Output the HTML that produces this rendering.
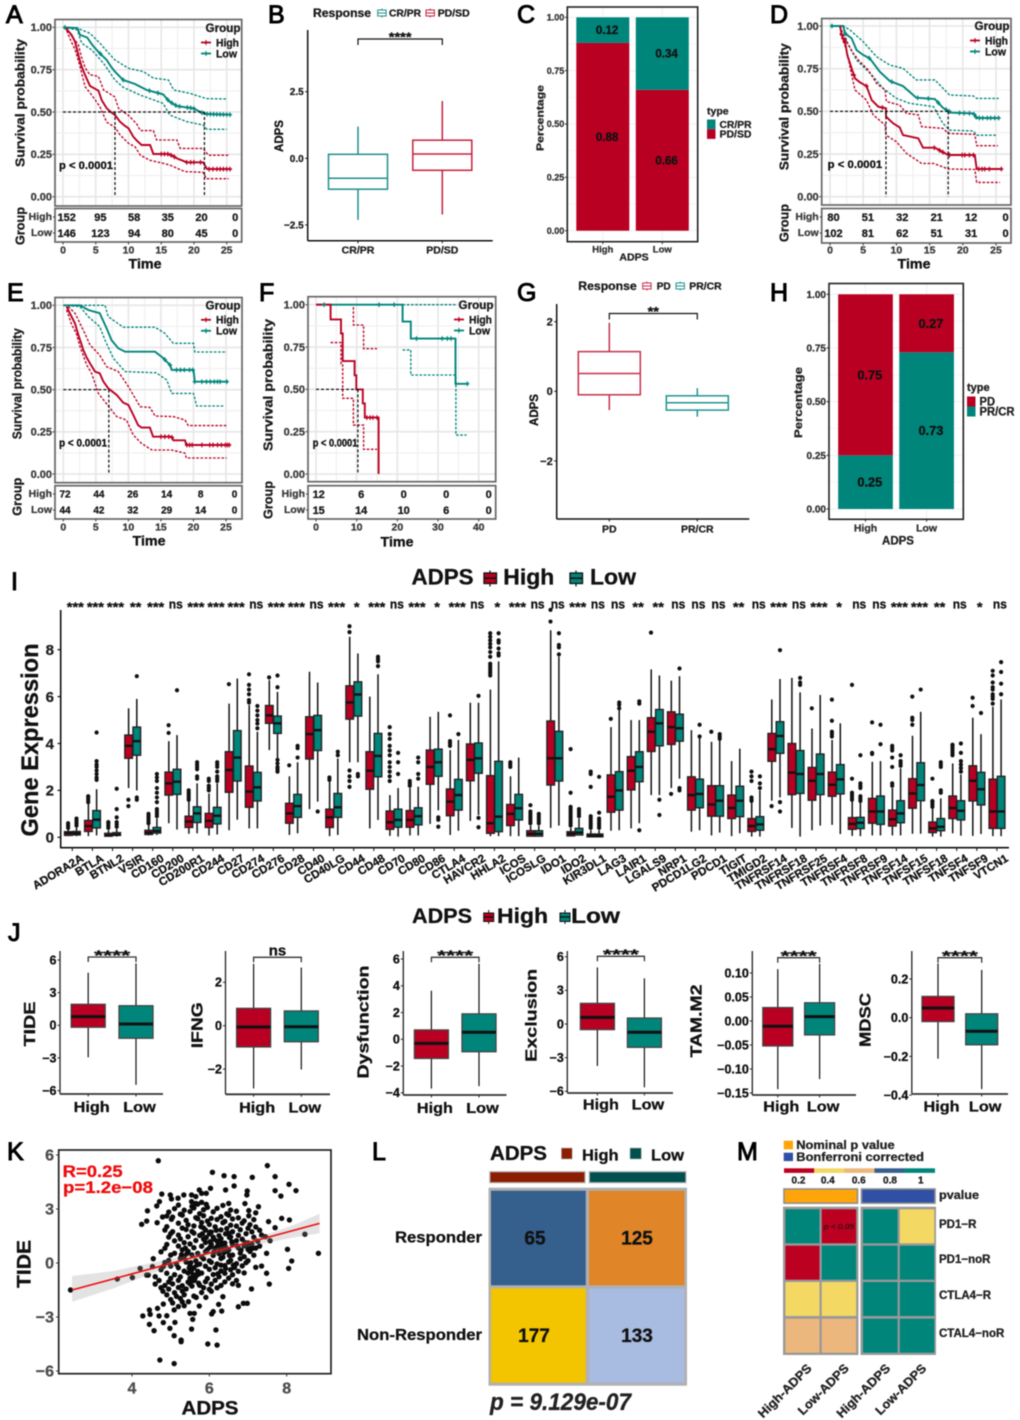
<!DOCTYPE html>
<html lang="en"><head><meta charset="utf-8"><title>ADPS multi-panel figure</title>
<style>
html,body{margin:0;padding:0;background:#fff}
svg{display:block;filter:blur(.4px)}
text{font-family:"Liberation Sans",sans-serif}
.letter{font-size:25px;font-weight:400;stroke:#000;stroke-width:1px;fill:#000}
</style></head>
<body>
<svg id="figure" xmlns="http://www.w3.org/2000/svg" width="1020" height="1420" viewBox="0 0 1020 1420">
<rect width="1020" height="1420" fill="#fff"/>
<text class="letter" x="6" y="23">A</text>
<text class="letter" x="268" y="23">B</text>
<text class="letter" x="517" y="23">C</text>
<text class="letter" x="770" y="23">D</text>
<text class="letter" x="7" y="301">E</text>
<text class="letter" x="259" y="301">F</text>
<text class="letter" x="517" y="301">G</text>
<text class="letter" x="770" y="301">H</text>
<text class="letter" x="11" y="590">I</text>
<text class="letter" x="8" y="941">J</text>
<text class="letter" x="7" y="1160">K</text>
<text class="letter" x="372" y="1160">L</text>
<text class="letter" x="737" y="1160">M</text>
</svg>
<script>
/* ---------- Panel A data (time, survival) ---------- */
const aHighCurve=[[0.5,1],[.56,.988],[1.32,.955],[1.83,.915],[2.1,.875],[2.34,.837],[2.6,.8],[2.85,.768],[3.36,.719],[3.7,.69],[4.12,.654],[5.4,.626],[5.65,.6],[5.9,.571],[6.3,.545],[6.67,.522],[7.3,.5],[7.94,.482],[8.7,.443],[9.4,.42],[10,.404],[10.74,.354],[11.3,.33],[12,.305],[13.3,.305],[13.8,.252],[16.1,.252],[16.8,.24],[17.4,.226],[18.9,.203],[21.4,.203],[22,.163],[25.5,.163]];
const aHighUpper=[[.8,.98],[1.5,.94],[2.3,.9],[2.85,.82],[3.4,.76],[4.1,.72],[5.4,.71],[6.2,.63],[7.9,.59],[8.5,.52],[10,.48],[11.25,.43],[11.8,.39],[13.8,.39],[14.3,.335],[17.4,.335],[17.9,.285],[21.4,.285],[22.2,.245],[25.3,.245]];
const aHighLower=[[.56,.98],[1.2,.92],[1.83,.87],[2.6,.77],[3.36,.65],[4.4,.6],[5.65,.53],[6.67,.44],[7.94,.41],[8.7,.365],[10,.315],[11,.295],[11.8,.245],[13.3,.215],[15.3,.197],[16.3,.187],[18.6,.148],[21.4,.144],[21.9,.106],[25.3,.106]];
const aLowCurve=[[0,1],[2.2,.995],[2.6,.955],[3.7,.94],[4.3,.905],[4.9,.876],[5.8,.84],[6.67,.807],[7.3,.77],[7.94,.738],[9.2,.689],[11,.665],[12,.645],[12.8,.63],[15.3,.604],[15.8,.58],[16.3,.561],[17.4,.535],[19.9,.522],[21.2,.496],[22,.488],[25.5,.484]];
const aLowUpper=[[0,1],[2.2,.995],[2.85,.984],[4.1,.965],[5.65,.906],[6.8,.855],[7.94,.807],[10,.758],[12.3,.738],[13.8,.7],[16.1,.689],[16.9,.63],[19.4,.61],[21.9,.579],[25,.577]];
const aLowLower=[[0,1],[2.2,.984],[2.85,.906],[4.4,.866],[6.2,.787],[7.94,.689],[9.2,.646],[11.8,.6],[15.3,.551],[16.3,.482],[18.9,.443],[21.4,.423],[22,.398],[25,.398]];
const aHighCensor=[15,15.5,16,16.5,17,18.9,19.5,20,21,22.3,22.9,23.5,24,24.5,25,25.5];
const aLowCensor=[.3,5.7,9.2,13.2,14.5,16,16.6,17.2,17.8,19,19.5,20,21.2,22,22.5,23,23.5,24,24.5,25,25.5];
const aMedianTimes=[7.94,21.6];
const aRiskHigh=[152,95,58,35,20,0];
const aRiskLow=[146,123,94,80,45,0];
/* ---------- Panel D data ---------- */
const dHighCurve=[[1.5,1],[1.76,.947],[2.26,.908],[2.6,.83],[3.26,.752],[3.77,.693],[4.5,.67],[5.5,.648],[6.28,.566],[7.28,.527],[8.43,.518],[8.43,.469],[9.5,.43],[10.5,.406],[11,.361],[13.3,.342],[14,.287],[15.8,.287],[16.8,.265],[17.8,.244],[21.8,.244],[22.1,.162],[25.9,.162]];
const dHighUpper=[[1.5,1],[2,.947],[3.5,.84],[4.5,.79],[5.77,.742],[7,.664],[8.3,.625],[8.5,.557],[10.5,.537],[11.5,.488],[13.3,.479],[13.8,.41],[17,.4],[17.8,.371],[21.8,.365],[22.1,.299],[25.3,.299]];
const dHighLower=[[1.5,.957],[2.5,.86],[3.1,.742],[3.77,.625],[5.5,.566],[6.5,.479],[8.3,.42],[8.43,.361],[10,.322],[11.5,.254],[13.8,.195],[15.6,.195],[17.8,.162],[21.8,.16],[22.1,.084],[25.6,.084]];
const dLowCurve=[[0,1],[2,1],[2.26,.957],[3.26,.928],[4,.859],[5,.83],[6,.81],[7.5,.732],[9,.678],[11,.648],[13,.58],[15.8,.572],[17,.521],[18.3,.492],[21.6,.488],[22.1,.461],[25.4,.461]];
const dLowUpper=[[0,1],[2,1],[3,.977],[5,.908],[7,.82],[9,.771],[11,.752],[13,.684],[15.8,.684],[18,.596],[21.6,.59],[22.1,.576],[25.4,.576]];
const dLowLower=[[0,1],[2,1],[2.5,.908],[4,.8],[6.3,.713],[8,.635],[10,.576],[12,.547],[15.6,.527],[17,.43],[18,.39],[21.6,.385],[22.1,.36],[25.1,.36]];
const dHighCensor=[2.2,3.6,5.5,7.9,15.7,16.5,17,18,19.9,20.3,21,21.6,22.4,22.9,23.3,24,25.8];
const dLowCensor=[0.3,2.3,5.9,9.3,13.2,14.8,16.3,17.5,18,19.5,20.2,21,21.7,22,22.5,23,23.7,24.2,24.8,25.4];
const dMedianTimes=[8.43,17.8];
const dRiskHigh=[80,51,32,21,12,0];
const dRiskLow=[102,81,62,51,31,0];
/* ---------- Panel E data ---------- */
const eHighCurve=[[.5,.992],[1,.953],[1.8,.893],[2.3,.824],[2.7,.78],[3.07,.735],[3.6,.69],[4.1,.656],[4.87,.607],[5.6,.597],[6.15,.549],[6.9,.508],[8.2,.468],[9.2,.423],[10,.409],[10.76,.35],[11.5,.29],[12,.275],[13.3,.275],[13.8,.221],[16.65,.221],[16.9,.2],[18.7,.2],[18.9,.172],[25.6,.172]];
const eHighUpper=[[.75,.992],[1.8,.953],[2.56,.893],[3.3,.834],[4.1,.765],[5.6,.705],[6.65,.636],[8.45,.607],[10,.518],[11.8,.399],[13.3,.395],[14.1,.344],[16.9,.34],[18.7,.32],[19.2,.287],[25.1,.287]];
const eHighLower=[[.5,.972],[1.3,.883],[2,.834],[2.56,.755],[3.6,.646],[4.35,.597],[5.4,.478],[7.2,.389],[8.2,.34],[9.7,.32],[10.76,.231],[12,.182],[13.6,.142],[16.65,.142],[18.7,.123],[18.9,.095],[25.1,.095]];
const eLowCurve=[[0,1],[2.56,1],[3.84,.972],[5.6,.953],[6.65,.864],[7.4,.794],[8.45,.745],[9.5,.725],[14.1,.725],[15.4,.686],[16.4,.646],[16.65,.617],[20,.617],[20.2,.547],[25.4,.547]];
const eLowUpper=[[0,1],[6.4,1],[6.9,.933],[9.2,.87],[14.1,.87],[15.6,.834],[16.9,.775],[20,.775],[20.2,.723],[25.1,.723]];
const eLowLower=[[0,1],[2.56,.992],[3.84,.933],[5.6,.874],[6.4,.794],[7.7,.686],[9.5,.607],[14.3,.6],[15.9,.557],[16.65,.478],[20,.478],[20.5,.403],[24.8,.403]];
const eHighCensor=[15,15.6,16.2,16.7,19,19.4,19.8,21.3,22.5,23,23.7,24.3,24.9,25.2,25.5];
const eLowCensor=[15.6,16.4,17.4,18,18.6,19.4,19.9,20.2,21.3,22,22.6,23.2,23.7,24.1,25.1];
const eMedianTimes=[7];
const eRiskHigh=[72,44,26,14,8,0];
const eRiskLow=[44,42,32,29,14,0];
/* ---------- Panel F data ---------- */
const fHighCurve=[[0,1],[3.6,.913],[6.15,.83],[6.56,.667],[9.5,.583],[9.9,.5],[11.5,.417],[12,.333],[15.4,0]];
const fHighUpper=[[3.6,1],[9.2,.88],[11.7,.74],[15,.74]];
const fHighLower=[[3.6,.776],[6.15,.644],[6.56,.447],[9.2,.289],[11.7,.146],[15,.146]];
const fLowCurve=[[0,1],[21.3,.9],[23.3,.8],[34.3,.533],[37.2,.533]];
const fLowUpper=[[21.3,1],[34.5,1]];
const fLowLower=[[21.3,.733],[23.3,.585],[34.4,.23],[37,.23]];
const fHighCensor=[12.5,13.3,14,15];
const fLowCensor=[2,15.5,19.2,24.7,31,32.3,33.2,37.2];
const fMedianTimes=[10.3];
const fRiskHigh=[12,6,0,0,0];
const fRiskLow=[15,14,10,6,0];
/* ---------- Panels B, G (open box plots): whisker low, q1, median, q3, whisker high ---------- */
const bCategories=['CR/PR','PD/SD'];
const bBoxCRPR=[-2.31,-1.16,-.75,.15,1.19];
const bBoxPDSD=[-2.11,-.45,.16,.68,2.15];
const bTicks=[2.5,0,-2.5];
const gCategories=['PD','PR/CR'];
const gBoxPD=[-.54,-.1,.51,1.14,1.97];
const gBoxPRCR=[-.73,-.54,-.33,-.13,.09];
const gTicks=[2,0,-2];
/* ---------- Panels C, H (stacked bars) ---------- */
const stackTicks=[0,.25,.5,.75,1];
const cCategories=['High','Low'];
const cPDSD=[.88,.66];
const cCRPR=[.12,.34];
const hCategories=['High','Low'];
const hPRCR=[.25,.73];
const hPD=[.75,.27];
/* ---------- Panel I: whisker low, q1, median, q3, whisker high ---------- */
const iGenes=['ADORA2A','BTLA','BTNL2','VSIR','CD160','CD200','CD200R1','CD244','CD27','CD274','CD276','CD28','CD40','CD40LG','CD44','CD48','CD70','CD80','CD86','CTLA4','HAVCR2','HHLA2','ICOS','ICOSLG','IDO1','IDO2','KIR3DL1','LAG3','LAIR1','LGALS9','NRP1','PDCD1LG2','PDCD1','TIGIT','TMIGD2','TNFRSF14','TNFRSF18','TNFRSF25','TNFRSF4','TNFRSF8','TNFRSF9','TNFSF14','TNFSF15','TNFSF18','TNFSF4','TNFSF9','VTCN1'];
const iSignificance=['***','***','***','**','***','ns','***','***','***','ns','***','***','ns','***','*','***','ns','***','*','***','ns','*','***','ns','ns','***','ns','ns','**','**','ns','ns','ns','**','ns','***','ns','***','*','ns','ns','***','***','**','ns','*','ns'];
const iHighBoxes=[[.05,.08,.18,.24,.35],[.05,.25,.48,.72,1.45],[.03,.05,.08,.17,.3],[2.1,3.37,3.9,4.36,5.5],[.08,.12,.2,.3,.55],[.6,1.8,2.3,2.78,4.1],[.15,.42,.67,.9,1.55],[.08,.42,.7,1.02,1.87],[.3,1.92,2.87,3.65,5.7],[.38,1.28,1.95,3.04,5.64],[3.72,4.86,5.2,5.62,6.7],[.1,.6,1.02,1.45,2.6],[1.2,3.34,4.4,5.14,7.06],[.05,.42,.85,1.2,2.37],[3.2,5.04,5.75,6.46,8.55],[.38,2.05,2.84,3.65,6],[.06,.34,.64,1.12,1.8],[.08,.43,.74,1.14,2.1],[.57,2.26,3,3.72,5.14],[.1,.92,1.52,2.06,3.72],[.7,2.41,3.3,3.98,5.74],[.05,.17,.6,2.63,6.3],[.05,.5,1,1.4,2.6],[.05,.05,.15,.28,.5],[.4,2.23,3.37,4.96,8.83],[.06,.06,.15,.24,.4],[.02,.02,.07,.14,.3],[.28,1.07,1.73,2.66,4.7],[.38,2.02,2.84,3.44,5],[1.8,3.66,4.5,5.1,7.16],[2.1,3.96,4.7,5.35,6.68],[.24,1.16,1.8,2.58,4.57],[.08,.9,1.4,2.2,4.07],[.05,.8,1.25,1.8,3.25],[.03,.25,.48,.8,1.5],[1.56,3.24,3.76,4.43,5.88],[.4,1.82,2.76,4,6.8],[.3,1.58,2.41,2.98,4.64],[.53,1.75,2.24,2.78,4.15],[.06,.34,.57,.84,1.56],[.08,.6,1.1,1.66,3.22],[.08,.48,.77,1.16,2.1],[.15,1.24,1.87,2.5,4.33],[.03,.2,.38,.65,1.28],[.17,.8,1.25,1.76,3.15],[.06,1.55,2.41,3.05,5.1],[.05,.38,1.1,2.48,5.57]];
const iLowBoxes=[[.05,.1,.17,.25,.42],[.08,.4,.75,1.14,2.05],[.03,.08,.11,.2,.35],[2,3.5,4.1,4.7,5.9],[.1,.18,.27,.42,.8],[.33,1.83,2.37,2.9,4.36],[.17,.63,1.02,1.3,2.3],[.12,.57,.92,1.28,2.3],[.75,2.4,3.4,4.55,6.77],[.38,1.55,2.13,2.77,4.5],[3.3,4.43,4.86,5.17,6.2],[.17,.85,1.33,1.83,3.2],[1.52,3.7,4.57,5.2,6.6],[.1,.85,1.28,1.87,3.36],[3.2,5.17,6.09,6.63,7.84],[.74,2.58,3.47,4.43,6.95],[.03,.43,.74,1.2,2.1],[.08,.53,.9,1.26,2.16],[1.15,2.6,3.2,3.76,5.35],[.28,1.16,1.8,2.47,4.15],[.95,2.73,3.37,4.02,5.74],[.05,.24,.88,3.24,7.5],[.05,.74,1.24,1.83,3.4],[.05,.05,.15,.28,.5],[.5,2.4,3.37,4.52,7.7],[.1,.1,.2,.38,.8],[.02,.02,.07,.14,.3],[.3,1.16,2,2.8,5.43],[.6,2.37,3,3.65,5],[1.8,3.9,4.86,5.45,6.9],[2.5,4.1,4.65,5.25,6.87],[.3,1.26,1.85,2.48,4.3],[.2,.9,1.56,2.2,4.2],[.17,.88,1.56,2.18,3.78],[.03,.3,.55,.88,2],[1.7,3.58,4.32,4.93,6.75],[.03,1.87,2.7,3.7,6.18],[.5,1.82,2.7,3.55,6.07],[.14,1.85,2.47,3.1,4.86],[.05,.37,.62,.85,1.48],[.08,.55,1.1,1.76,3.25],[.08,.62,1.02,1.56,2.94],[.15,1.56,2.23,3.18,5.35],[.03,.28,.45,.8,1.66],[.07,.74,1.13,1.56,2.68],[.14,1.38,2.05,2.77,4.4],[.05,.38,1.1,2.6,5.88]];
const iHighOutliers=[[.4,.5,.6],[1.5,1.6,1.7,1.75],[.4,.5,.6,.65],[1.33,1.6],[.6,.7,.8,.9,1],[4.45,4.78],[1.6,1.7,1.8,1.9,2],[2,2.1,2.2,2.4,2.5],[6.53],[5.75,5.85,6.1,6.3,6.5,6.95],[6.82],[3.07],[],[2.45,2.55],[2.15,2.4,2.6,2.85,8.75,9],[],[2.4,2.6,2.8,3,3.2,3.5,3.7,3.9,4.2,4.4,4.7],[2.2,2.3,2.4],[],[3.9,4,4.1,5.2],[],[6.9,7,7.1,7.2,7.3,7.4,7.7,7.9,8.1,8.25,8.4,8.55,8.7],[3,3.1,3.2],[.6,.7,.8,.9,1,1.1,1.37],[9.2,9.7],[.5,.6,.7,.8,.9,1,1.1,1.2,1.3,1.9,3.76],[.4,.5,.6,.7,.8,.9,2.15,2.7,2.8],[5.05],[],[8.73],[1.85],[],[4.5],[],[1.55,1.6,1.7,2.4,2.6,2.8],[1.33],[],[5.5],[4.3,4.4,4.5,4.97,5.87],[1.6,1.7,1.8,1.9,2.5,6.5],[3.55,3.6,4.9],[2.2,2.3,3,3.4,3.7,3.8,3.9],[4.8,5,5.1,6],[1.3,1.4,1.5,1.55,2.5],[3.5,3.6,3.7,3.8,3.9,3.95],[5.6,5.95],[5.7,5.9,6,6.1,6.3,6.4,6.6,6.9,7.1]];
const iLowOutliers=[[.5,.6,.7,.8],[2.45,2.55,2.7,2.85,3,3.1,3.25,4.47],[.45,.55,.65,.85,1.2,2.07],[1.6,1.7,6.87],[.9,1,1.1,1.2,1.5,1.7,1.9,2.1,2.4,2.55,2.7],[6.27],[2.5,2.6,2.9,3,3.1,3.2],[2.4,2.5,2.6,2.8,3,3.1,3.2],[],[4.65,4.85,5,5.2,5.4,5.6],[2.8,2.9,3,3.15,3.3,6.4,6.9],[3.4,3.8,3.9],[1.1],[3.5,3.65],[2.6,2.7],[7.3,7.5,7.6,7.7],[2.7,3.2,3.6],[2.5,2.7,3.2,3.4],[.45,.75,.85],[4.4],[.43,.83,6.03],[7.75,7.85,8.05,8.3,8.4,8.7],[],[.6,.7,.8,.9,1],[7.8,8.1,8.2,8.7],[.9,1,1.1,1.2],[.4,.5,.6,.7,.8,1.05,2.58],[5.5,5.65,5.75],[.3,5.7,5.8],[.95,1.6],[2,2.1,7.2],[4.3,4.8],[4.2,4.3,4.4],[],[2.1,2.3,2.6],[1.1,1.5,7.98],[6.5,6.6,6.8],[],[],[1.55,1.65,1.75,2.1,2.2,2.3,3.5],[3.97,4.8],[3.05,3.15,3.25,3.5],[6.3],[1.9,2,3,3.1,3.2],[2.8,2.95,3.1,3.25,3.6,4],[5.3],[6.1,6.55,7.05,7.47]];
const iTicks=[0,2,4,6,8];
/* ---------- Panel J ---------- */
const jLabels=['High','Low'];
const jTideHigh=[-2.94,-.18,.8,1.93,4.83];
const jTideLow=[-5.47,-1.19,.12,1.8,5.69];
const jTideTicks=[6,3,0,-3,-6];
const jIfngHigh=[-2.89,-.98,-.06,.8,2.85];
const jIfngLow=[-2.02,-.74,-.05,.68,2.68];
const jIfngTicks=[2,0,-2];
const jDysHigh=[-3.68,-1.43,-.3,.7,3.63];
const jDysLow=[-3.5,-.93,.53,1.9,5.65];
const jDysTicks=[6,4,2,0,-2,-4];
const jExcHigh=[-3.74,-.5,.59,1.84,5.04];
const jExcLow=[-5.64,-2.08,-.74,.53,4.07];
const jExcTicks=[6,3,0,-3,-6];
const jTamHigh=[-.142,-.052,-.011,.028,.108];
const jTamLow=[-.121,-.029,.009,.038,.119];
const jTamTicks=[.1,.05,0,-.05,-.1,-.15];
const jMdscHigh=[-.212,-.02,.05,.11,.28];
const jMdscLow=[-.369,-.14,-.07,.02,.247];
const jMdscTicks=[.2,0,-.2,-.4];
/* ---------- Panel K ---------- */
const kXTicks=[4,6,8];
const kYTicks=[6,3,0,-3,-6];
const kFitX=[2.45,8.85];
const kFitY=[-1.5,2.2];
const kBandX=[2.45,3.5,4.5,5.5,6,6.5,7.5,8.2,8.85];
const kBandUpper=[-.72,-.45,0,.45,.72,1,1.6,2.12,2.74];
const kBandLower=[-2.15,-1.42,-.6,.12,.38,.66,1.12,1.42,1.65];
const kPoints=[[4.68,5.68],[6.08,5.04],[6.38,4.85],[6.64,4.8],[7.11,4.76],[7.5,5.41],[7.7,4.8],[8.06,4.37],[8.24,4.02],[7.7,4.02],[7.85,3.72],[6.03,4.15],[6.42,4.06],[6.64,4.28],[6.98,4],[6.97,3.78],[6.92,3.3],[7.27,3.13],[7.87,2.48],[8.07,2.39],[7.53,2.3],[7.7,1.96],[8.47,1.6],[7.57,1.24],[8.82,.54],[8.02,.76],[8.13,.11],[8.05,-.3],[7.55,-1.17],[7.48,.54],[7.48,-.57],[7.09,-1.44],[6.88,-2.24],[6.98,-2.24],[6.75,-2.43],[6.35,-1.87],[6.24,-2.3],[6.32,-2.67],[6.1,-2.7],[6.06,-2.83],[6.17,-3.72],[6.2,-4.56],[5.96,-4.5],[5.54,-3.67],[5.57,-3.13],[5.5,-2.8],[5.61,-2.8],[5.74,-2.39],[5.66,-1.91],[5.91,-1.91],[5.27,-4.37],[5.27,-4.28],[5.09,-4.04],[4.98,-3.63],[4.57,-3.76],[4.45,-3.41],[4.81,-3.31],[5.11,-3.3],[4.9,-2.93],[4.7,-2.94],[4.28,-2.94],[4.47,-2.85],[4.45,-2.61],[4.66,-2.52],[4.81,-2.28],[5.09,-2.61],[5.46,-2.15],[4.72,-5.39],[5.09,-5.59],[2.41,-1.5],[3.62,-.89],[4.01,-.81],[4.21,-.3],[4.38,-.67],[4.42,-.67],[4.53,-.2],[4.81,-.2],[4.25,2.15],[4.38,2.33],[4.4,2.9],[4.65,2.24],[4.77,3.83],[4.71,3.41],[4.64,3.17],[4.79,2.56],[4.99,3.78],[5.02,3.56],[5.19,3.6],[5.34,3.78],[5.54,3.78],[5.65,3.69],[5.74,4.06],[5.8,3.87],[5.92,3.87],[5.54,3.41],[5.65,3.31],[5.8,3.37],[5.92,3.26],
[5.2,3.22],[5.55,3.14],[5.7,3.27],[5.95,3.09],[6.35,3.2],[6.5,3.31],[5.1,3.02],[5.35,2.93],[5.6,3.06],[5.85,2.96],[6.2,3.04],[6.55,2.94],[7.02,2.91],[4.95,2.83],[5.25,2.71],[5.5,2.86],[5.75,2.74],[6.1,2.84],[6.45,2.73],[6.7,2.88],[7.2,2.79],[4.9,2.61],[5.05,2.55],[5.3,2.66],[5.65,2.52],[5.85,2.63],[6.05,2.48],[6.3,2.57],[6.5,2.66],[6.75,2.51],[7.02,2.62],[5.02,2.43],[5.4,2.37],[5.7,2.46],[5.95,2.33],[6.2,2.42],[6.4,2.31],[6.6,2.45],[6.9,2.34],[7.15,2.41],[5.2,2.21],[5.45,2.13],[5.8,2.25],[6,2.14],[6.35,2.24],[6.55,2.1],[6.85,2.22],[7.05,2.13],[4.9,2.02],[5.3,1.94],[5.6,2.06],[5.85,1.95],[6.15,2.01],[6.45,1.91],[6.7,2.05],[7,1.93],[7.2,2],[4.85,1.83],[5.05,1.74],[5.4,1.86],[5.55,1.75],[5.9,1.83],[6.05,1.72],[6.3,1.84],[6.6,1.74],[6.8,1.85],[7.1,1.73],[7.3,1.82],[5,1.63],[5.2,1.55],[5.6,1.66],[5.75,1.53],[6,1.62],[6.25,1.52],[6.5,1.65],[6.75,1.54],[6.95,1.63],[7.35,1.55],[4.95,1.44],[5.25,1.34],[5.45,1.46],[5.85,1.33],[6.1,1.43],[6.3,1.35],[6.55,1.45],[6.85,1.32],[7.15,1.43],[7.45,1.46],[5.1,1.23],[5.35,1.13],[5.65,1.25],[5.9,1.14],[6.2,1.22],[6.4,1.11],[6.7,1.24],[7,1.12],[7.25,1.21],[4.9,1.03],[5.2,.94],[5.5,1.06],[5.8,.93],[6.05,1.04],[6.35,.92],[6.6,1.02],[6.9,.95],[7.1,1.05],[7.3,.94],[4.85,.82],[5.3,.73],[5.6,.85],[5.95,.74],[6.15,.83],[6.5,.72],[6.75,.84],[7,.75],[7.2,.83],[4.75,.62],[5.1,.54],[5.45,.65],[5.7,.53],[5.9,.63],[6.25,.52],[6.45,.66],[6.8,.55],[7.05,.64],[5,.44],[5.35,.33],[5.55,.45],[5.8,.34],[6.1,.42],[6.35,.32],[6.6,.44],[6.9,.35],[7.15,.43],[4.55,.24],[4.95,.14],[5.25,.26],[5.65,.13],[5.85,.23],[6,.12],[6.3,.25],[6.55,.15],[6.8,.24],[7,.13],[4.85,.03],[5.15,-.07],[5.4,.05],[5.75,-.06],[6.05,.04],[6.2,-.05],[6.5,.06],[6.7,-.04],[6.95,.02],[5,-.17],[5.2,-.26],[5.5,-.15],[5.6,-.27],[5.9,-.18],[6.15,-.26],[6.4,-.14],[6.65,-.25],[6.85,-.16],[7.2,-.24],[7.35,-.17],[4.75,-.37],[5.35,-.45],[5.55,-.36],[5.7,-.46],[6,-.35],[6.3,-.44],[6.55,-.37],[6.75,-.46],[4.9,-.57],[5.1,-.65],[5.45,-.55],[5.6,-.66],[5.8,-.56],[6.1,-.64],[6.4,-.57],[6.6,-.65],[6.9,-.55],[4.6,-.76],[5,-.85],[5.25,-.77],[5.5,-.84],[5.65,-.75],[5.95,-.86],[6.25,-.76],[6.5,-.84],[4.7,-.97],[4.95,-1.05],[5.2,-.96],[5.45,-1.06],[5.6,-.98],[5.9,-1.04],[6.15,-.96],[6.4,-1.05],[6.7,-.97],[4.6,-1.17],[4.85,-1.25],[5.05,-1.16],[5.3,-1.26],[5.5,-1.15],[5.75,-1.24],[6.05,-1.17],[6.3,-1.25],[6.6,-1.16],[6.75,-1.24],[4.75,-1.37],[4.95,-1.45],[5.2,-1.36],[5.4,-1.44],[5.85,-1.37],[6,-1.46],[6.2,-1.38],[4.8,-1.57],[5.1,-1.65],[5.3,-1.56],[5.8,-1.64],[6.05,-1.57],[4.9,-1.77],[5.15,-1.85],[5.35,-1.76],[5.6,-1.84],[5,-2.03],[5.25,-1.97],[5.05,-2.22],[5.3,-2.16],[5.2,-2.42],[5.35,-2.37],
[5.52,-.48],[5.58,-.72],[5.62,-.92],[5.48,-.28],[5.68,-.1],[5.52,.02],[5.72,-.62],[5.5,-1.02],[5.55,-1.28],[5.72,-1.12],[6.02,1.18],[6.12,1.32],[6.22,.98],[6.32,1.12],[6.28,.78],[6.42,.88],[6.02,.88],[6.12,.62],[6.38,.58],[6.52,.42],[6.72,.95],[6.82,.72],[6.92,1.14],[7.02,.92],[7.12,.82],[6.58,1.18],[6.62,-.12],[6.42,-.3],[6.22,-.6],[6.3,-.12],[5.82,1.62],[5.92,1.42],[6.02,1.72],[5.78,2.02],[6.18,1.82],[6.42,1.62],[6.52,1.42],[5.38,.82],[5.42,.52],[5.28,.46]];
/* ---------- Panel L, M ---------- */
const lRows=['Responder','Non-Responder'];
const lCounts=[[65,125],[177,133]];
const mRows=['PD1−R','PD1−noR','CTLA4−R','CTAL4−noR'];
const mCols=['High-ADPS','Low-ADPS','High-ADPS','Low-ADPS'];
const mPValues=[[1,.03,1,.4],[.2,1,1,1],[.4,.4,1,1],[.6,.6,1,1]];
const mBreaks=[.2,.4,.6,.8,1];

/* ---------- helpers ---------- */
const NS='http://www.w3.org/2000/svg';
const root=document.getElementById('figure');
const RED='#b90022',TEAL='#00857b';
const DARK='#222',GREY='#3c3c3c';
function el(parent,tag,attrs,name){
  const e=document.createElementNS(NS,tag);
  for(const k in attrs)e.setAttribute(k,attrs[k]);
  
  
  parent.appendChild(e);
  return e;
}
function grp(name,parent){return el(parent||root,'g',{},name);}
function T(parent,name,str,x,y,o){
  o=o||{};
  const fill=o.fill||DARK;
  const a={x:x,y:y,dy:'.35em','font-size':o.size||11,'font-weight':o.weight||'bold',fill:fill,'text-anchor':o.anchor||'middle',stroke:fill,'stroke-width':o.sw===undefined?.3:o.sw};
  if(o.italic)a['font-style']='italic';
  if(o.rot)a.transform='rotate('+o.rot+' '+x+' '+y+')';
  if(o.len){a.textLength=o.len;a.lengthAdjust='spacingAndGlyphs';}
  const t=el(parent,'text',a,name);
  t.textContent=str;
  return t;
}
function L(parent,name,x1,y1,x2,y2,stroke,w,dash){
  const a={x1:x1,y1:y1,x2:x2,y2:y2,stroke:stroke||DARK,'stroke-width':w||1};
  if(dash)a['stroke-dasharray']=dash;
  return el(parent,'line',a,name);
}
function R(parent,name,x,y,w,h,fill,stroke,sw){
  return el(parent,'rect',{x:x,y:y,width:w,height:h,fill:fill||'none',stroke:stroke||'none','stroke-width':sw||0},name);
}
function linear(d0,d1,r0,r1){return function(v){return r0+(v-d0)*(r1-r0)/(d1-d0);};}
function fmt(v,d){return v.toFixed(d).replace('-','−');}
function stepPath(c,x,y){
  let s='M'+x(c[0][0]).toFixed(1)+' '+y(c[0][1]).toFixed(1);
  for(let i=1;i<c.length;i++)s+='H'+x(c[i][0]).toFixed(1)+'V'+y(c[i][1]).toFixed(1);
  return s;
}
function tracePath(c,x,y){
  let s='';
  c.forEach(function(p,i){s+=(i?'L':'M')+x(p[0]).toFixed(1)+' '+y(p[1]).toFixed(1);});
  return s;
}
function survAt(c,t){
  for(let i=1;i<c.length;i++){
    if(t<=c[i][0]){
      const a=c[i-1],b=c[i];
      return b[0]===a[0]?b[1]:a[1]+(t-a[0])*(b[1]-a[1])/(b[0]-a[0]);
    }
  }
  return c[c.length-1][1];
}
function survStep(c,t){let s=c[0][1];for(const p of c){if(p[0]<=t)s=p[1];}return s;}

/* ---------- Kaplan-Meier panel ---------- */
function drawKM(o){
  const g=grp(o.name);
  const x=linear(0,o.tMax,o.x0,o.x1),y=linear(0,1,o.y0,o.y1);
  const f=o.frame;
  const pathFn=o.step?stepPath:tracePath;
  const sAt=o.step?survStep:survAt;
  R(g,'plot-background',f.l,f.t,f.r-f.l,f.b-f.t,'#fff');
  o.xTicks.forEach(function(t,i){
    L(g,'grid-x-major',x(t),f.t,x(t),f.b,'#e6e6e6',1.6);
    if(i<o.xTicks.length-1)L(g,'grid-x-minor',x(t+(o.xTicks[1]-o.xTicks[0])/2),f.t,x(t+(o.xTicks[1]-o.xTicks[0])/2),f.b,'#eeeeee',1);
  });
  [0,.25,.5,.75,1].forEach(function(s,i){
    L(g,'grid-y-major',f.l,y(s),f.r,y(s),'#e6e6e6',1.6);
    if(i<4)L(g,'grid-y-minor',f.l,y(s+.125),f.r,y(s+.125),'#eeeeee',1);
    T(g,'y-tick-label',s.toFixed(2),f.l-3,y(s),{size:11,anchor:'end',fill:GREY});
    L(g,'y-tick',f.l-2.5,y(s),f.l,y(s),GREY,1);
  });
  const series=[[o.lowUpper,TEAL,'low-ci-upper'],[o.lowLower,TEAL,'low-ci-lower'],[o.highUpper,RED,'high-ci-upper'],[o.highLower,RED,'high-ci-lower']];
  series.forEach(function(s){el(g,'path',{d:pathFn(s[0],x,y),fill:'none',stroke:s[1],'stroke-width':1.35,'stroke-dasharray':'2.6 1.6'},s[2]);});
  el(g,'path',{d:pathFn(o.lowCurve,x,y),fill:'none',stroke:TEAL,'stroke-width':1.9},'low-survival-curve');
  el(g,'path',{d:pathFn(o.highCurve,x,y),fill:'none',stroke:RED,'stroke-width':1.9},'high-survival-curve');
  o.lowCensor.forEach(function(t){const s=sAt(o.lowCurve,t);L(g,'low-censor-mark',x(t),y(s)-2.4,x(t),y(s)+2.4,TEAL,1.2);L(g,'low-censor-mark',x(t)-2,y(s),x(t)+2,y(s),TEAL,1.6);});
  o.highCensor.forEach(function(t){const s=sAt(o.highCurve,t);L(g,'high-censor-mark',x(t),y(s)-2.4,x(t),y(s)+2.4,RED,1.2);L(g,'high-censor-mark',x(t)-2,y(s),x(t)+2,y(s),RED,1.6);});
  const mx=Math.max.apply(null,o.median);
  L(g,'median-horizontal',x(0),y(.5),x(mx),y(.5),'#111',1.25,'3 2');
  o.median.forEach(function(t){L(g,'median-vertical',x(t),y(.5),x(t),y(0),'#111',1.25,'3 2');});
  R(g,'plot-frame',f.l,f.t,f.r-f.l,f.b-f.t,'none','#666',1.7);
  T(g,'p-value',"p < 0.0001",o.pX,o.pY,{size:11,anchor:'start',fill:'#111',len:o.pLen});
  T(g,'y-axis-title','Survival probability',o.titleX,o.titleY,{size:12.5,rot:-90,len:o.titleLen,fill:'#1a1a1a'});
  T(g,'legend-title','Group',o.legX+22,o.legY,{size:12,fill:'#1a1a1a',len:35});
  [['High',RED,14.5],['Low',TEAL,25.5]].forEach(function(k){
    L(g,'legend-key-line',o.legX,o.legY+k[2],o.legX+10,o.legY+k[2],k[1],1.8);
    L(g,'legend-key-mark',o.legX+5,o.legY+k[2]-2.4,o.legX+5,o.legY+k[2]+2.4,k[1],1.2);
    T(g,'legend-label',k[0],o.legX+15,o.legY+k[2],{size:11,anchor:'start',fill:'#1a1a1a',len:k[0]==='High'?23:21});
  });
  /* risk table */
  const tb=o.table;
  R(g,'risk-table-frame',f.l,tb.t,f.r-f.l,tb.b-tb.t,'#fff','#666',1.7);
  T(g,'risk-table-title','Group',o.titleX,tb.titleY,{size:12.5,rot:-90,len:38,fill:'#1a1a1a'});
  [['High',tb.r1,o.riskHigh],['Low',tb.r2,o.riskLow]].forEach(function(r){
    T(g,'risk-row-label',r[0],f.l-3,r[1]-.5,{size:10.5,anchor:'end',fill:GREY});
    L(g,'risk-row-tick',f.l-2,r[1],f.l,r[1],GREY,1);
    r[2].forEach(function(v,i){
      T(g,'risk-count',String(v),tb.n0+i*tb.step,r[1],{size:o.numSize||11,fill:'#1a1a1a'});
    });
  });
  o.xTicks.forEach(function(t){
    L(g,'x-tick',x(t),tb.b,x(t),tb.b+2.5,GREY,1);
    T(g,'x-tick-label',String(t),x(t),o.tickY,{size:10.5,fill:GREY});
  });
  T(g,'x-axis-title','Time',o.timeX,o.timeY,{size:13.5,fill:'#111',len:33});
}
drawKM({name:'panel-a-survival',tMax:25,x0:63,x1:226.7,y0:196.7,y1:27.3,frame:{l:55,r:241.7,t:19.5,b:206},xTicks:[0,5,10,15,20,25],
 highCurve:aHighCurve,highUpper:aHighUpper,highLower:aHighLower,lowCurve:aLowCurve,lowUpper:aLowUpper,lowLower:aLowLower,highCensor:aHighCensor,lowCensor:aLowCensor,median:aMedianTimes,
 riskHigh:aRiskHigh,riskLow:aRiskLow,pX:59,pY:165,pLen:54,titleX:20,titleY:103,titleLen:128,legX:201,legY:28,
 table:{t:208.5,b:242,titleY:226,r1:217,r2:233,n0:66.7,step:33.7},tickY:250,timeX:145,timeY:264});
drawKM({name:'panel-d-survival',tMax:25,x0:830,x1:996,y0:196.7,y1:26,frame:{l:821.7,r:1011,t:18.5,b:205},xTicks:[0,5,10,15,20,25],
 highCurve:dHighCurve,highUpper:dHighUpper,highLower:dHighLower,lowCurve:dLowCurve,lowUpper:dLowUpper,lowLower:dLowLower,highCensor:dHighCensor,lowCensor:dLowCensor,median:dMedianTimes,
 riskHigh:dRiskHigh,riskLow:dRiskLow,pX:827.7,pY:164,pLen:54.5,titleX:784,titleY:106.7,titleLen:127,legX:970,legY:26,
 table:{t:208.5,b:243,titleY:223,r1:217,r2:233,n0:833.5,step:34.4},tickY:250,timeX:914,timeY:264});
drawKM({name:'panel-e-survival',tMax:25,x0:63.3,x1:226,y0:474,y1:305.3,frame:{l:55,r:242,t:297.5,b:482.7},xTicks:[0,5,10,15,20,25],
 highCurve:eHighCurve,highUpper:eHighUpper,highLower:eHighLower,lowCurve:eLowCurve,lowUpper:eLowUpper,lowLower:eLowLower,highCensor:eHighCensor,lowCensor:eLowCensor,median:eMedianTimes,
 riskHigh:eRiskHigh,riskLow:eRiskLow,pX:59,pY:442.7,pLen:48,titleX:17,titleY:383.7,titleLen:111,legX:201,legY:305.3,
 table:{t:485.7,b:519,titleY:496.7,r1:494,r2:510,n0:65,step:33.9},numSize:10,tickY:527,timeX:149,timeY:541});
drawKM({name:'panel-f-survival',step:true,tMax:40,x0:316,x1:478.7,y0:474,y1:304.7,frame:{l:308,r:495.7,t:296.7,b:481.7},xTicks:[0,10,20,30,40],
 highCurve:fHighCurve,highUpper:fHighUpper,highLower:fHighLower,lowCurve:fLowCurve,lowUpper:fLowUpper,lowLower:fLowLower,highCensor:fHighCensor,lowCensor:fLowCensor,median:fMedianTimes,
 riskHigh:fRiskHigh,riskLow:fRiskLow,pX:312.7,pY:442.7,pLen:44.7,titleX:268,titleY:385,titleLen:132,legX:454,legY:305,
 table:{t:485.7,b:519,titleY:500,r1:494,r2:510,n0:318.7,step:42.5},numSize:11,tickY:527,timeX:397,timeY:542});

/* ---------- generic box ---------- */
function box(g,name,cx,w,s,y,o){
  L(g,name+'-whisker-upper',cx,y(s[3]),cx,y(s[4]),o.line,o.ww);
  L(g,name+'-whisker-lower',cx,y(s[1]),cx,y(s[0]),o.line,o.ww);
  R(g,name+'-box',cx-w/2,y(s[3]),w,y(s[1])-y(s[3]),o.fill||'#fff',o.stroke,o.bw);
  L(g,name+'-median',cx-w/2,y(s[2]),cx+w/2,y(s[2]),o.med,o.mw);
}
/* ---------- Panels B and G ---------- */
function drawOpen(o){
  const g=grp(o.name);
  const y=linear(o.d0,o.d1,o.r0,o.r1);
  L(g,'y-axis',o.axX,o.axT,o.axX,o.axB,'#111',1.5);
  L(g,'x-axis',o.axX,o.axB,o.axR,o.axB,'#111',1.5);
  o.ticks.forEach(function(t){
    L(g,'y-tick',o.axX-2.5,y(t),o.axX,y(t),'#111',1);
    T(g,'y-tick-label',fmt(t,o.dec),o.axX-4,y(t),{size:o.tickSize,anchor:'end',fill:'#222'});
  });
  o.cats.forEach(function(c,i){
    L(g,'x-tick',o.cx[i],o.axB,o.cx[i],o.axB+2.5,'#111',1);
    T(g,'x-tick-label',c,o.cx[i],o.labY,{size:o.labSize,fill:'#222'});
    box(g,'box-'+c.toLowerCase().replace('/','-'),o.cx[i],o.w,o.data[i],y,{line:o.colors[i],ww:1.5,fill:'#fff',stroke:o.colors[i],bw:1.5,med:o.colors[i],mw:1.5});
  });
  T(g,'y-axis-title','ADPS',o.titleX,o.titleY,{size:o.titleSize,rot:-90,fill:'#111'});
  el(g,'path',{d:'M'+o.cx[0]+' '+(o.brY+6)+'V'+o.brY+'H'+o.cx[1]+'V'+(o.brY+6),fill:'none',stroke:'#111','stroke-width':1.2},'significance-bracket');
  T(g,'significance-label',o.stars,(o.cx[0]+o.cx[1])/2,o.brY-2,{size:13,fill:'#111',len:o.stars.length*5.7});
  T(g,'legend-title','Response',o.leg.rx,o.leg.y,{size:11.5,anchor:'start',fill:'#1a1a1a',len:o.leg.rl});
  o.leg.items.forEach(function(it){
    L(g,'legend-key-whisker',it.k+4.2,o.leg.y-4.5,it.k+4.2,o.leg.y+4.5,it.c,1);
    R(g,'legend-key-box',it.k,o.leg.y-3,8.4,6,'#fff',it.c,1);
    L(g,'legend-key-median',it.k,o.leg.y,it.k+8.4,o.leg.y,it.c,1);
    T(g,'legend-label',it.t,it.x,o.leg.y,{size:10.5,anchor:'start',fill:'#1a1a1a',len:it.l});
  });
}
drawOpen({name:'panel-b-boxplot',d0:0,d1:2.5,r0:158.3,r1:91.7,axX:307.7,axT:30,axB:240.7,axR:492.7,ticks:bTicks,dec:1,tickSize:10,cats:bCategories,cx:[358,442.3],w:59,data:[bBoxCRPR,bBoxPDSD],colors:['#1f8e8b','#c6203f'],labY:250,labSize:10.5,titleX:279,titleY:136,titleSize:11.5,brY:39,stars:'****',
 leg:{rx:313,y:13,rl:58,items:[{k:377.7,x:389,l:32,t:'CR/PR',c:'#1f8e8b'},{k:426,x:437.7,l:32,t:'PD/SD',c:'#c6203f'}]}});
drawOpen({name:'panel-g-boxplot',d0:0,d1:2,r0:391.3,r1:321.7,axX:556.7,axT:304,axB:519,axR:749.3,ticks:gTicks,dec:0,tickSize:11,cats:gCategories,cx:[609.3,697.3],w:62,data:[gBoxPD,gBoxPRCR],colors:['#c6304c','#1f9490'],labY:529,labSize:10.5,titleX:534,titleY:410,titleSize:11.5,brY:313.5,stars:'**',
 leg:{rx:578.3,y:286,rl:58.4,items:[{k:642.7,x:656.7,l:14,t:'PD',c:'#c6304c'},{k:676,x:689.3,l:32.4,t:'PR/CR',c:'#1f9490'}]}});

/* ---------- Panels C and H ---------- */
function drawStack(o){
  const g=grp(o.name);
  const f=o.frame;
  const y=linear(0,1,o.y0,o.y1);
  o.ticks.forEach(function(t,i){
    L(g,'grid-y-major',f.l,y(t),f.r,y(t),'#f0f0f0',1);
    if(i<o.ticks.length-1)L(g,'grid-y-minor',f.l,y(t+.125),f.r,y(t+.125),'#f5f5f5',1);
    L(g,'y-tick',f.l-2.5,y(t),f.l,y(t),'#333',1);
    T(g,'y-tick-label',t.toFixed(2),f.l-3,y(t),{size:o.tickSize,anchor:'end',fill:'#333'});
  });
  o.cats.forEach(function(c,i){
    L(g,'grid-x',o.cx[i],f.t,o.cx[i],f.b,'#f0f0f0',1);
    let base=0;
    o.series.forEach(function(s){
      const v=s.values[i];
      R(g,'bar-'+c.toLowerCase()+'-'+s.key,o.cx[i]-o.w/2,y(base+v),o.w,y(base)-y(base+v),s.color);
      T(g,'bar-value-label',v.toFixed(2),o.cx[i]+4.3,(y(base)+y(base+v))/2,{size:o.valSize,fill:'#111'});
      base+=v;
    });
    L(g,'x-tick',o.cx[i],f.b,o.cx[i],f.b+2.5,'#333',1);
    T(g,'x-tick-label',c,o.cx[i],o.labY,{size:o.labSize,fill:'#333'});
  });
  R(g,'plot-frame',f.l,f.t,f.r-f.l,f.b-f.t,'none','#222',1.6);
  T(g,'y-axis-title','Percentage',o.titleX,o.titleY,{size:o.titleSize,rot:-90,fill:'#222',len:o.titleLen});
  T(g,'x-axis-title','ADPS',o.xtX,o.xtY,{size:o.xtSize,fill:'#222'});
  T(g,'legend-title','type',o.leg.x,o.leg.y,{size:o.leg.size,anchor:'start',fill:'#222'});
  o.leg.items.forEach(function(it,i){
    R(g,'legend-swatch',o.leg.x,o.leg.ky+i*o.leg.kh,o.leg.kw,o.leg.kh,it.c);
    T(g,'legend-label',it.t,o.leg.x+o.leg.kw+4,o.leg.ky+(i+.5)*o.leg.kh,{size:o.leg.lsize,anchor:'start',fill:'#222',len:it.l});
  });
}
drawStack({name:'panel-c-stacked-bars',frame:{l:567.3,r:697.7,t:7,b:241.7},y0:230.7,y1:17.3,ticks:stackTicks,tickSize:9,cats:cCategories,cx:[602.8,662.3],w:53,
 series:[{key:'pd-sd',values:cPDSD,color:RED},{key:'cr-pr',values:cCRPR,color:TEAL}],valSize:11.5,labY:249,labSize:9.5,titleX:540,titleY:118,titleSize:10.5,titleLen:66,xtX:634,xtY:257,xtSize:10.5,
 leg:{x:707,y:110.7,size:10.5,ky:119.5,kw:8.5,kh:9.7,lsize:10.5,items:[{t:'CR/PR',c:TEAL,l:32},{t:'PD/SD',c:RED,l:32}]}});
drawStack({name:'panel-h-stacked-bars',frame:{l:829,r:963.3,t:283.5,b:519.3},y0:509,y1:294.3,ticks:stackTicks,tickSize:10,cats:hCategories,cx:[865.5,926.6],w:54.7,
 series:[{key:'pr-cr',values:hPRCR,color:TEAL},{key:'pd',values:hPD,color:RED}],valSize:12.8,labY:527.7,labSize:10.5,titleX:798,titleY:402.5,titleSize:11,titleLen:71,xtX:898,xtY:540.7,xtSize:11.5,
 leg:{x:967,y:387,size:11,ky:396.5,kw:8.5,kh:10,lsize:11.5,items:[{t:'PD',c:RED,l:15.5},{t:'PR/CR',c:TEAL,l:35}]}});

/* ---------- Panel I ---------- */
(function(){
  const g=grp('panel-i-gene-expression');
  const y=linear(0,8,837.3,649.7);
  const band=i=>72.3+i*20.1;
  L(g,'y-axis',60.7,610,60.7,847.7,'#111',1.6);
  L(g,'x-axis',60,847.7,1009,847.7,'#111',1.6);
  iTicks.forEach(function(t){
    L(g,'y-tick',57.5,y(t),60.7,y(t),'#111',1.2);
    T(g,'y-tick-label',String(t),54,y(t),{size:15,anchor:'end',fill:'#222'});
  });
  T(g,'y-axis-title','Gene Expression',29.5,740,{size:24,rot:-90,fill:'#111',len:193});
  T(g,'legend-title','ADPS',442.5,577,{size:22,fill:'#111',len:62});
  [[484,'High',RED,503.3,51],[570,'Low',TEAL,590,46]].forEach(function(k){
    L(g,'legend-key-whisker',k[0]+6,570.5,k[0]+6,586.5,'#111',1.2);
    R(g,'legend-key-box',k[0],573,12.5,10.5,k[2],'#111',1.3);
    L(g,'legend-key-median',k[0],578.2,k[0]+12.5,578.2,'#111',1.6);
    T(g,'legend-label',k[1],k[3],577,{size:22,anchor:'start',fill:'#111',len:k[4]});
  });
  iGenes.forEach(function(gene,i){
    const c=band(i);
    const n=gene.toLowerCase();
    L(g,'x-tick-'+n,c,847.7,c,851,'#111',1);
    T(g,'x-tick-label-'+n,gene,c+10,857,{size:11.5,anchor:'end',rot:-31,fill:'#111'});
    const sig=iSignificance[i];
    if(sig==='ns')T(g,'significance-'+n,sig,c+3,604,{size:13,fill:'#111',len:14});
    else T(g,'significance-'+n,sig,c+3,607,{size:13,fill:'#111',len:sig.length*5.7});
    iHighOutliers[i].forEach(function(v){el(g,'circle',{cx:c-4.2,cy:y(v),r:2.1,fill:'#111'},'outlier-high-'+n);});
    iLowOutliers[i].forEach(function(v){el(g,'circle',{cx:c+4.2,cy:y(v),r:2.1,fill:'#111'},'outlier-low-'+n);});
    const st={line:'#111',ww:1.5,stroke:'#222',bw:1.4,med:'#111',mw:2.4};
    box(g,'box-high-'+n,c-4,7.6,iHighBoxes[i],y,Object.assign({fill:RED},st));
    box(g,'box-low-'+n,c+4.2,7.6,iLowBoxes[i],y,Object.assign({fill:TEAL},st));
  });
})();

/* ---------- Panel J ---------- */
function drawJ(o){
  const g=grp(o.name);
  const y=linear(o.v0,o.v1,o.p0,o.p1);
  L(g,'y-axis',o.ax,951,o.ax,o.bottom,'#222',1.3);
  L(g,'x-axis',o.ax,o.bottom,o.axR,o.bottom,'#333',1.8);
  o.ticks.forEach(function(t){
    L(g,'y-tick',o.ax-2.5,y(t),o.ax,y(t),'#222',1);
    T(g,'y-tick-label',fmt(t,o.dec),o.ax-3.5,y(t),{size:12.5,anchor:'end',fill:'#111'});
  });
  const st={line:'#111',ww:1.2,stroke:'#444',bw:1.3,med:'#111',mw:3};
  [[o.high,RED],[o.low,TEAL]].forEach(function(d,i){
    L(g,'x-tick',o.cx[i],o.bottom,o.cx[i],o.bottom+2.5,'#222',1);
    box(g,'box-'+jLabels[i].toLowerCase(),o.cx[i],o.w,d[0],y,Object.assign({fill:d[1]},st));
    T(g,'x-tick-label',jLabels[i],o.cx[i]+3.5,o.labY,{size:15,fill:'#111',len:i?32.5:36});
  });
  T(g,'y-axis-title',o.title,o.tx,o.ty,{size:16,rot:-90,fill:'#111',len:o.tl});
  el(g,'path',{d:'M'+o.cx[0]+' '+(o.br+5)+'V'+o.br+'H'+o.cx[1]+'V'+(o.br+5),fill:'none',stroke:'#333','stroke-width':1.3},'significance-bracket');
  if(o.sig==='ns')T(g,'significance-label',o.sig,(o.cx[0]+o.cx[1])/2,o.br-7,{size:15,fill:'#111'});
  else T(g,'significance-label',o.sig,(o.cx[0]+o.cx[1])/2,o.br-2,{size:14,fill:'#111',len:36});
}
(function(){
  const g=grp('panel-j-title');
  T(g,'legend-title','ADPS',442,915.7,{size:21,fill:'#111',len:60});
  [[483.7,'High',RED,497,51],[560,'Low',TEAL,571,49]].forEach(function(k){
    L(g,'legend-key-whisker',k[0]+5,910,k[0]+5,924,'#111',1);
    R(g,'legend-key-box',k[0],913,10,8.5,k[2],'#111',1);
    L(g,'legend-key-median',k[0],917,k[0]+10,917,'#111',1.4);
    T(g,'legend-label',k[1],k[3],915.7,{size:21,anchor:'start',fill:'#111',len:k[4]});
  });
})();
drawJ({name:'panel-j-tide',title:'TIDE',tx:29.4,ty:1024,tl:45,ax:60,axR:163,bottom:1094,v0:0,v1:6,p0:1025.3,p1:960,ticks:jTideTicks,dec:0,cx:[88.2,136],w:34,high:jTideHigh,low:jTideLow,labY:1106.7,br:957,sig:'****'});
drawJ({name:'panel-j-ifng',title:'IFNG',tx:197,ty:1025.3,tl:46,ax:225.5,axR:330,bottom:1094.3,v0:0,v1:2,p0:1025.7,p1:982.3,ticks:jIfngTicks,dec:0,cx:[253.6,301.3],w:34,high:jIfngHigh,low:jIfngLow,labY:1107,br:957.3,sig:'ns'});
drawJ({name:'panel-j-dysfunction',title:'Dysfunction',tx:362.7,ty:1022,tl:113,ax:403.3,axR:506.5,bottom:1095,v0:0,v1:6,p0:1039.3,p1:959,ticks:jDysTicks,dec:0,cx:[431.4,479],w:34,high:jDysHigh,low:jDysLow,labY:1107.7,br:957.3,sig:'****'});
drawJ({name:'panel-j-exclusion',title:'Exclusion',tx:530.7,ty:1015.3,tl:93,ax:567.3,axR:673,bottom:1093,v0:0,v1:6,p0:1024,p1:956.7,ticks:jExcTicks,dec:0,cx:[597.4,644.4],w:34,high:jExcHigh,low:jExcLow,labY:1104.3,br:956.3,sig:'****'});
drawJ({name:'panel-j-tam-m2',title:'TAM.M2',tx:696,ty:1021,tl:73,ax:752.3,axR:856,bottom:1095,v0:0,v1:.1,p0:1021,p1:973,ticks:jTamTicks,dec:2,cx:[777.8,819.6],w:30,high:jTamHigh,low:jTamLow,labY:1106,br:957.7,sig:'****'});
drawJ({name:'panel-j-mdsc',title:'MDSC',tx:864.7,ty:1020,tl:54,ax:911.8,axR:1008,bottom:1094,v0:0,v1:.2,p0:1017.7,p1:979,ticks:jMdscTicks,dec:1,cx:[938,981.7],w:32,high:jMdscHigh,low:jMdscLow,labY:1106,br:957.7,sig:'****'});

/* ---------- Panel K ---------- */
(function(){
  const g=grp('panel-k-scatter');
  const x=linear(4,8,132,286.7),y=linear(0,6,1263,1155);
  kPoints.forEach(function(p){el(g,'circle',{cx:x(p[0]),cy:y(p[1]),r:2.7,fill:'#0c0c0c'},'scatter-point');});
  let d='';
  kBandX.forEach(function(v,i){d+=(i?'L':'M')+x(v).toFixed(1)+' '+y(kBandUpper[i]).toFixed(1);});
  for(let i=kBandX.length-1;i>=0;i--)d+='L'+x(kBandX[i]).toFixed(1)+' '+y(kBandLower[i]).toFixed(1);
  el(g,'path',{d:d+'Z',fill:'#999','fill-opacity':.28},'confidence-band');
  L(g,'regression-line',x(kFitX[0]),y(kFitY[0]),x(kFitX[1]),y(kFitY[1]),'#ee0c0c',1.6);
  R(g,'plot-frame',58.7,1150,272.3,223.7,'none','#222',1.7);
  kXTicks.forEach(function(t){
    L(g,'x-tick',x(t),1373.7,x(t),1376.5,'#333',1);
    T(g,'x-tick-label',String(t),x(t),1388,{size:16,fill:'#4d4d4d'});
  });
  kYTicks.forEach(function(t){
    L(g,'y-tick',56,y(t),58.7,y(t),'#333',1);
    T(g,'y-tick-label',fmt(t,0),54,y(t),{size:16,anchor:'end',fill:'#4d4d4d'});
  });
  T(g,'x-axis-title','ADPS',210,1407.7,{size:19,fill:'#111',len:57});
  T(g,'y-axis-title','TIDE',24,1264,{size:19,rot:-90,fill:'#111',len:48});
  T(g,'correlation-r','R=0.25',62.7,1171,{size:17,anchor:'start',fill:'#ee0c0c',len:60});
  T(g,'correlation-p','p=1.2e−08',63,1187,{size:17,anchor:'start',fill:'#ee0c0c',len:90});
})();

/* ---------- Panel L ---------- */
(function(){
  const g=grp('panel-l-contingency');
  T(g,'legend-title','ADPS',490,1153,{size:20,anchor:'start',fill:'#111',len:57});
  R(g,'legend-swatch-high',561.4,1148,10.8,11,'#8b1e00','#bbb',.6);
  T(g,'legend-label-high','High',582,1155,{size:15.5,anchor:'start',fill:'#111',len:36.6});
  R(g,'legend-swatch-low',630,1148,11.3,11,'#00504f','#bbb',.6);
  T(g,'legend-label-low','Low',651,1155,{size:15.5,anchor:'start',fill:'#111',len:33});
  R(g,'annotation-bar-high',489.8,1171.7,95.2,11,'#8b1e00','#b5b5b5',1.2);
  R(g,'annotation-bar-low',589.3,1171.7,96.6,11,'#00504f','#b5b5b5',1.2);
  R(g,'heatmap-frame',488.5,1187.7,198.5,198,'#b0b0b0');
  const xs=[[491,94.8],[589,95.5]],ys=[[1190.7,94.6],[1288.3,94.4]];
  const fills=[['#355f8d','#e08528'],['#f2c500','#a8bbe0']];
  const cx=[[535,637],[534,637]];
  lCounts.forEach(function(row,r){
    T(g,'row-label',lRows[r],482,ys[r][0]+ys[r][1]/2-1,{size:15.5,anchor:'end',fill:'#111',len:r?125:87});
    row.forEach(function(v,c){
      R(g,'cell-'+lRows[r].toLowerCase()+'-'+c,xs[c][0],ys[r][0],xs[c][1],ys[r][1],fills[r][c]);
      T(g,'cell-count',String(v),cx[r][c],ys[r][0]+ys[r][1]/2,{size:19,fill:'#111'});
    });
  });
  T(g,'p-value','p = 9.129e-07',490,1401.7,{size:24,anchor:'start',fill:'#222',italic:true,len:141});
})();

/* ---------- Panel M ---------- */
(function(){
  const g=grp('panel-m-heatmap');
  const GR='#8f8f8f';
  const palette=['#bc0022','#f4d864','#ecb77c','#35608d','#00857b'];
  const colour=function(v){for(let i=0;i<mBreaks.length;i++){if(v<=mBreaks[i])return palette[i];}return palette[4];};
  R(g,'legend-swatch-nominal',783.7,1140.7,9.3,8.6,'#ffa50a');
  T(g,'legend-label-nominal','Nominal p value',796.3,1145,{size:11.5,anchor:'start',fill:'#222',len:98.3});
  R(g,'legend-swatch-bonferroni',783.7,1152.7,9.3,8.4,'#2f50a5');
  T(g,'legend-label-bonferroni','Bonferroni corrected',796.3,1157,{size:11.5,anchor:'start',fill:'#222',len:127.7});
  const bw=(934.8-784)/palette.length;
  palette.forEach(function(c,i){R(g,'colorbar-segment',784+i*bw,1168.3,bw+.2,4.6,c);});
  const cbX=[798.5,827.8,858.8,890,920.8];
  mBreaks.forEach(function(b,i){T(g,'colorbar-label',String(b),cbX[i],1180,{size:10,fill:'#222'});});
  R(g,'header-nominal',784,1189,73.5,14.2,'#ffa50a',GR,1.6);
  R(g,'header-bonferroni',861.5,1189,73.5,14.2,'#2f50a5',GR,1.6);
  T(g,'header-label','pvalue',939,1195,{size:11.5,anchor:'start',fill:'#222',len:40});
  R(g,'frame-nominal',783,1206.7,75.4,148.3,'#999');
  R(g,'frame-bonferroni',860.5,1206.7,75.5,148.3,'#999');
  const colX=[785.4,821.7,863,899.8],colW=[34.1,34.5,34.6,34.5];
  const rowY=[1209.3,1245.7,1282,1318.7],rowH=34;
  const labY=[1224,1259,1295,1333];
  mPValues.forEach(function(row,r){
    T(g,'row-label',mRows[r],939,labY[r],{size:11.5,anchor:'start',fill:'#222'});
    row.forEach(function(v,c){
      R(g,'cell-'+mRows[r].toLowerCase()+'-'+c,colX[c],rowY[r],colW[c],rowH,colour(v));
      if(v<.05)T(g,'cell-annotation','p < 0.05',colX[c]+colW[c]/2,rowY[r]+17,{size:7.5,italic:true,fill:'#111',weight:'normal',sw:.1,len:30});
    });
  });
  const endX=[809.4,846.5,888,924];
  mCols.forEach(function(c,i){
    T(g,'column-label',c,endX[i],1366,{size:12.5,anchor:'end',rot:-45,fill:'#222',len:c[0]==='H'?70:66});
  });
})();
</script>
</body></html>
